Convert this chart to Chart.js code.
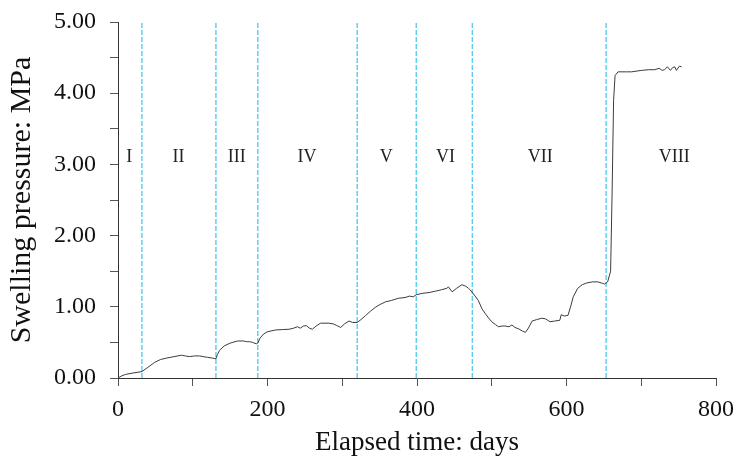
<!DOCTYPE html>
<html>
<head>
<meta charset="utf-8">
<script src="https://cdn.jsdelivr.net/npm/chart.js@4/dist/chart.umd.min.js"></script>
<style>
  html, body { margin: 0; padding: 0; background: #fff; }
  #wrap { width: 743px; height: 462px; }
</style>
</head>
<body>
<div id="wrap"><canvas id="swell_chart"></canvas></div>
<script>
// 경과일수 / 팽윤압 측정값
const days = [0, 5, 10, 20, 32, 40, 49, 57, 65, 75, 85, 90, 96, 102, 109, 114, 120, 126, 131,
  133, 136, 142, 150, 160, 168, 172, 176, 180, 185, 187, 190, 195, 200, 211, 220, 229, 235, 240,
  244, 248, 252, 256, 260, 265, 271, 282, 288, 292, 298, 303, 309, 314, 320, 325, 331, 338, 344,
  350, 358, 366, 375, 384, 390, 395, 399, 408, 416, 425, 433, 440, 442, 447, 453, 460, 465, 469,
  475, 482, 487, 491, 496, 500, 505, 509, 514, 518, 523, 527, 531, 536, 541, 545, 549, 554, 560,
  567, 572, 578, 584, 591, 593, 597, 602, 606, 609, 615, 621, 627, 635, 642, 648, 651, 655, 659,
  661, 663, 665, 669, 680, 687, 700, 710, 718, 724, 728, 731, 735, 739, 742, 745, 747, 751, 754];
const pressure = [0.00, 0.03, 0.05, 0.07, 0.09, 0.15, 0.22, 0.26, 0.28, 0.30, 0.32, 0.31, 0.30, 0.31, 0.31, 0.30, 0.29, 0.28, 0.27,
  0.33, 0.39, 0.45, 0.49, 0.52, 0.52, 0.51, 0.51, 0.50, 0.48, 0.49, 0.56, 0.62, 0.65, 0.675, 0.68, 0.685, 0.70, 0.72,
  0.70, 0.73, 0.735, 0.70, 0.685, 0.73, 0.77, 0.77, 0.76, 0.74, 0.71, 0.76, 0.80, 0.78, 0.78, 0.82, 0.875, 0.94, 0.99,
  1.03, 1.07, 1.09, 1.12, 1.13, 1.15, 1.14, 1.17, 1.19, 1.20, 1.22, 1.24, 1.26, 1.28, 1.21, 1.26, 1.31, 1.29, 1.26,
  1.19, 1.09, 0.97, 0.91, 0.84, 0.79, 0.75, 0.72, 0.73, 0.73, 0.72, 0.745, 0.71, 0.69, 0.66, 0.64, 0.70, 0.80, 0.82,
  0.84, 0.83, 0.79, 0.80, 0.81, 0.89, 0.87, 0.88, 1.02, 1.14, 1.26, 1.31, 1.335, 1.35, 1.35, 1.33, 1.32, 1.35, 1.50,
  2.60, 3.90, 4.25, 4.30, 4.30, 4.30, 4.32, 4.33, 4.33, 4.35, 4.32, 4.33, 4.37, 4.32, 4.36, 4.37, 4.32, 4.38, 4.37];

// 단계 경계 (일)
const stageBounds = [32, 131, 187, 320, 399, 474, 653];
// 단계 이름과 표시 위치
const stageNames = ['I', 'II', 'III', 'IV', 'V', 'VI', 'VII', 'VIII'];
const stageLabelDays = [15, 81, 159, 253, 359, 438, 565, 744];
const stageLabelY = 3.1;

const FONT = "'Liberation Serif', 'Times New Roman', serif";

let datasets = [{
    data: days.map((d, i) => ({x: d, y: pressure[i]})),
    borderColor: '#3c3c3c',
    borderWidth: 1,
    pointRadius: 0,
    tension: 0,
    order: 0
}];
stageBounds.forEach((d) => {
    datasets.push({
        data: [{x: d, y: 0}, {x: d, y: 5}],
        borderColor: '#55cdf4',
        borderWidth: 1.4,
        borderDash: [5, 2],
        pointRadius: 0,
        order: 1
    });
});

// 단계 로마숫자 표시
const stageLabelPlugin = {
    id: 'stageLabels',
    afterDatasetsDraw(chart) {
        let ctx = chart.ctx;
        let xs = chart.scales.x, ys = chart.scales.y;
        ctx.save();
        ctx.font = '18px ' + FONT;
        ctx.fillStyle = '#222';
        ctx.textAlign = 'center';
        ctx.textBaseline = 'middle';
        stageNames.forEach((n, i) => {
            ctx.fillText(n, xs.getPixelForValue(stageLabelDays[i]), ys.getPixelForValue(stageLabelY));
        });
        ctx.restore();
    }
};

let ctx = document.getElementById('swell_chart');
let myChart = new Chart(ctx, {
    type: 'line',
    data: {datasets: datasets},
    plugins: [stageLabelPlugin],
    options: {
        responsive: true,
        maintainAspectRatio: false,
        animation: false,
        layout: {padding: {top: 22, right: 25, left: 0, bottom: 0}},
        plugins: {legend: {display: false}, tooltip: {enabled: false}},
        scales: {
            x: {
                type: 'linear',
                min: 0, max: 800,
                afterFit: (s) => { s.height = 84; },
                border: {display: true, color: '#333', width: 1},
                grid: {drawOnChartArea: false, drawTicks: true, tickLength: 8, color: '#555'},
                ticks: {
                    stepSize: 100,
                    maxRotation: 0,
                    autoSkip: false,
                    padding: 9,
                    color: '#111',
                    font: {family: FONT, size: 24},
                    callback: (v) => (v % 200 === 0 ? String(v) : '')
                },
                title: {
                    display: true,
                    text: 'Elapsed time: days',
                    color: '#111',
                    font: {family: FONT, size: 27},
                    padding: {top: 0, bottom: 3}
                }
            },
            y: {
                min: 0, max: 5,
                afterFit: (s) => { s.width = 118; s.paddingTop = 0; s.paddingBottom = 0; },
                border: {display: true, color: '#333', width: 1},
                grid: {drawOnChartArea: false, drawTicks: true, tickLength: 8, color: '#555'},
                ticks: {
                    stepSize: 0.5,
                    autoSkip: false,
                    padding: 14,
                    color: '#111',
                    font: {family: FONT, size: 24},
                    callback: (v) => (Math.abs(v % 1) < 1e-9 ? v.toFixed(2) : '')
                },
                title: {
                    display: true,
                    text: 'Swelling pressure: MPa',
                    color: '#111',
                    font: {family: FONT, size: 30},
                    padding: {top: 4, bottom: 0}
                }
            }
        }
    }
});
</script>
</body>
</html>
